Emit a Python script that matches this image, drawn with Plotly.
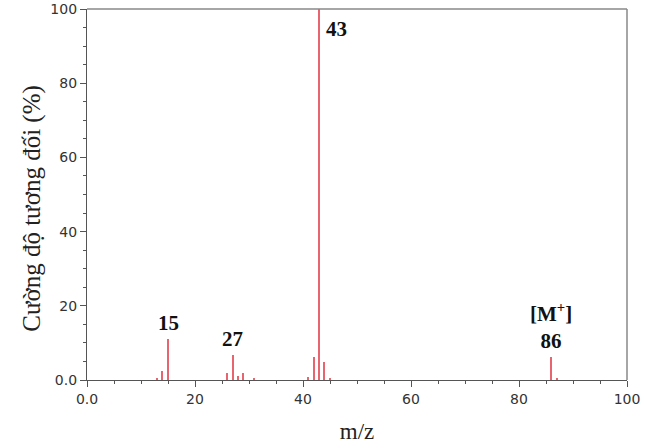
import plotly.graph_objects as go

mz = [13, 14, 15, 26, 27, 28, 29, 31, 41, 42, 43, 44, 45, 86, 87]
intensity = [0.5, 2.4, 11.0, 2.0, 6.7, 1.1, 2.0, 0.3, 0.8, 6.3, 100.0, 4.9, 0.4, 6.3, 0.4]

x_tickvals = [0, 20, 40, 60, 80, 100]
x_ticktext = ["0.0", "20", "40", "60", "80", "100"]
y_tickvals = [0, 20, 40, 60, 80, 100]
y_ticktext = ["0.0", "20", "40", "60", "80", "100"]

labels = [
    {"x": 15, "y": 11.0, "text": "15"},
    {"x": 27, "y": 6.7, "text": "27"},
    {"x": 86, "y": 6.3, "text": "[M<sup>+</sup>]<br>86"},
]

fig = go.Figure()
fig.add_trace(go.Bar(x=mz, y=intensity, width=0.28,
                     marker=dict(color="#e8646e", line=dict(width=0)),
                     showlegend=False, hoverinfo="x+y"))

serif = "Liberation Serif, Times New Roman, serif"
for lb in labels:
    fig.add_annotation(x=lb["x"], y=lb["y"], text="<b>" + lb["text"] + "</b>",
                       showarrow=False, yanchor="bottom", yshift=2,
                       font=dict(family=serif, size=21, color="#111"))
fig.add_annotation(x=43, y=100, text="<b>43</b>", showarrow=False,
                   xanchor="left", yanchor="top", xshift=5, yshift=-6,
                   font=dict(family=serif, size=21, color="#111"))

# y-axis title (as annotation to match its slightly low placement)
fig.add_annotation(xref="paper", yref="paper", x=-0.102, y=0.464,
                   text="Cường độ tương đối (%)", textangle=-90, showarrow=False,
                   xanchor="center", yanchor="middle",
                   font=dict(family=serif, size=25, color="#222"))

axis_common = dict(showline=True, linecolor="#555", linewidth=1.2,
                   ticks="outside", ticklen=6, tickcolor="#555", tickwidth=1.2,
                   showgrid=False, zeroline=False,
                   tickfont=dict(family="DejaVu Sans", size=14, color="#333"),
                   minor=dict(ticks="outside", ticklen=3, tickcolor="#555", dtick=5, tickwidth=1))

fig.update_xaxes(range=[0, 100], tickvals=x_tickvals, ticktext=x_ticktext,
                 title=dict(text="m/z", font=dict(family=serif, size=23, color="#222"), standoff=16),
                 **axis_common)
fig.update_yaxes(range=[0, 100], tickvals=y_tickvals, ticktext=y_ticktext,
                 **axis_common)

fig.add_shape(type="line", xref="paper", yref="paper", x0=0, x1=1, y0=1, y1=1,
              line=dict(color="#888", width=1.5))
fig.add_shape(type="line", xref="paper", yref="paper", x0=1, x1=1, y0=0, y1=1,
              line=dict(color="#888", width=1.5))

fig.update_layout(width=656, height=447,
                  margin=dict(l=87, r=29, t=9, b=67, autoexpand=False),
                  plot_bgcolor="white", paper_bgcolor="white", bargap=0)

fig.write_html("out.html")
